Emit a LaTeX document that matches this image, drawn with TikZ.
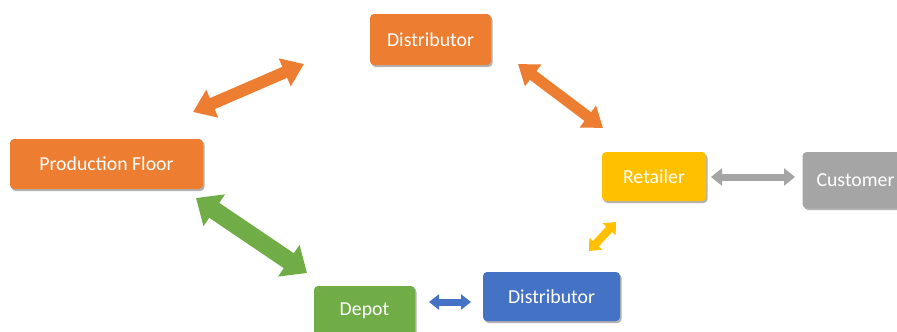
\documentclass[tikz,border=0pt]{standalone}
\usepackage{fontspec}
\setmainfont{Carlito}
\usetikzlibrary{arrows.meta,shadows}
\definecolor{corange}{HTML}{ED7D31}
\definecolor{cgreen}{HTML}{70AD47}
\definecolor{cblue}{HTML}{4472C4}
\definecolor{cyellow}{HTML}{FFC000}
\definecolor{cgrey}{HTML}{A5A5A5}
\tikzset{
  box/.style={rounded corners=4pt, text=white, align=center, inner sep=0pt,
    font=\fontsize{19.8}{23}\selectfont,
    drop shadow={shadow xshift=1.5pt, shadow yshift=-2pt, opacity=0.3, fill=black}},
  dblarrow/.style n args={4}{draw=#1, line width=#2,
    {Triangle[length=#3, width=#4]}-{Triangle[length=#3, width=#4]}}
}
\begin{document}
\begin{tikzpicture}[x=1pt,y=-1pt]
\useasboundingbox (0,0) rectangle (897,332);
\fill[white] (0,0) rectangle (897,332);
% nodes
\node[box, fill=corange, minimum width=121pt, minimum height=51pt] (dtop) at (430.5,39.5) {Distributor};
\node[box, fill=corange, minimum width=193pt, minimum height=50pt] (prod) at (106.5,164) {Production Floor};
\node[box, fill=cyellow, minimum width=104pt, minimum height=49pt] (ret) at (654,176.5) {Retailer};
\node[box, fill=cgrey, minimum width=106pt, minimum height=56pt] (cust) at (855.5,180) {Customer};
\node[box, fill=cgreen, minimum width=101pt, minimum height=50pt] (depot) at (364.5,311) {Depot};
\node[box, fill=cblue, minimum width=137pt, minimum height=49pt] (dbot) at (551.5,296.5) {Distributor};
% arrow end points
\coordinate (a1s) at (193,112); \coordinate (a1e) at (304,64);
\coordinate (a2s) at (518,64);  \coordinate (a2e) at (603,128);
\coordinate (a3s) at (196,198); \coordinate (a3e) at (307,273);
\coordinate (a4s) at (589,251); \coordinate (a4e) at (616,222);
\coordinate (a5s) at (429,302); \coordinate (a5e) at (471,302);
\coordinate (a6s) at (711,177); \coordinate (a6e) at (795,177);
% arrows
\draw[dblarrow={corange}{12pt}{21pt}{29pt}] (a1s) -- (a1e);
\draw[dblarrow={corange}{11pt}{19pt}{26pt}] (a2s) -- (a2e);
\draw[dblarrow={cgreen}{18pt}{22pt}{37pt}] (a3s) -- (a3e);
\draw[dblarrow={cyellow}{8pt}{10pt}{17pt}] (a4s) -- (a4e);
\draw[dblarrow={cblue}{7pt}{10pt}{15pt}] (a5s) -- (a5e);
\draw[dblarrow={cgrey}{7pt}{11pt}{17pt}] (a6s) -- (a6e);
\end{tikzpicture}
\end{document}
